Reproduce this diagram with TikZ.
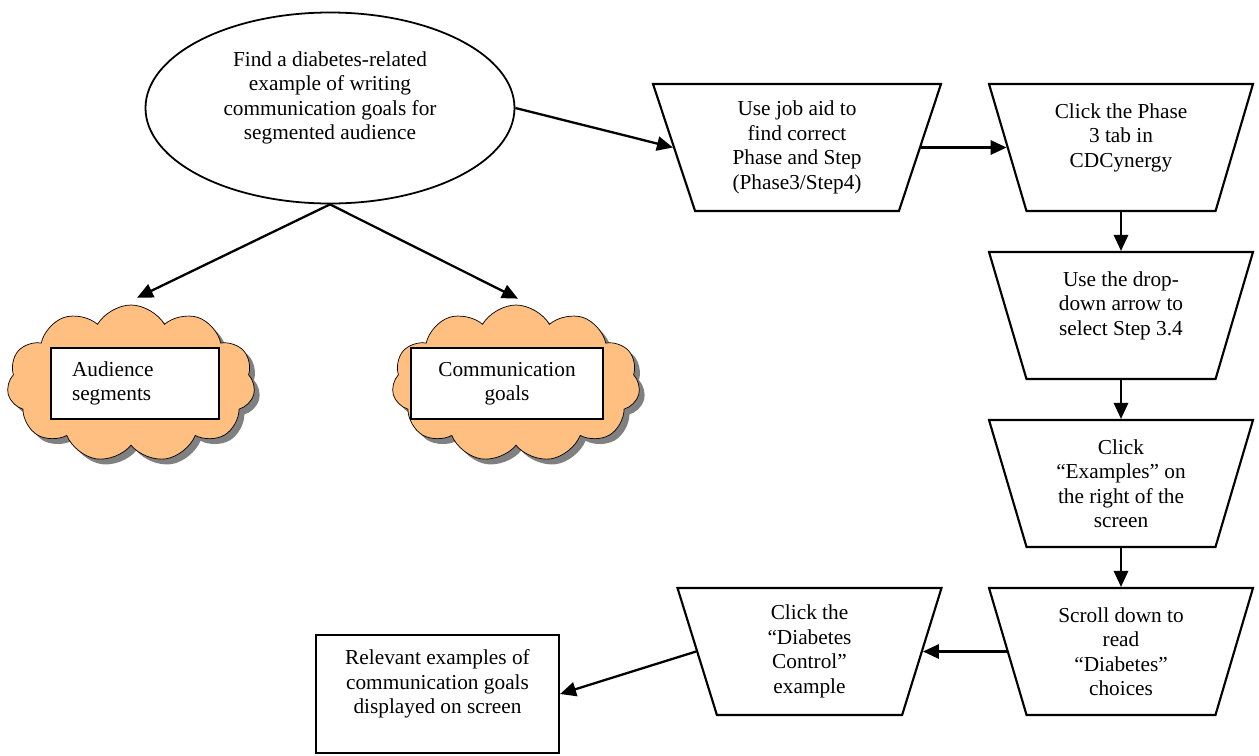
\documentclass[tikz,border=0pt]{standalone}
\usepackage{fontspec}
\setmainfont{Liberation Serif}
\usetikzlibrary{shapes.geometric,shapes.symbols,shadows,arrows.meta}
\definecolor{cloudfill}{RGB}{255,191,128}
\newcommand\PX{0.5634pt}
\begin{document}
\begin{tikzpicture}[x=0.5634pt,y=-0.5634pt,
  every node/.style={font=\fontsize{12pt}{13.8pt}\selectfont},
  stepbox/.style={draw, line width=1.2pt, trapezium, trapezium left angle=113,
    trapezium right angle=113, trapezium stretches body,
    minimum width=264*\PX, minimum height=127*\PX, inner sep=0pt, align=center},
  conn/.style={line width=1.3pt, -{Triangle[length=9pt,width=8pt]}},
  puff/.style={cloud, cloud puffs=11, cloud puff arc=120, draw, line width=0.4pt,
    fill=cloudfill, aspect=1.6, inner sep=0pt,
    minimum width=248*\PX, minimum height=157*\PX,
    drop shadow={shadow xshift=3pt, shadow yshift=-3pt, fill=gray, opacity=1}},
  labelbox/.style={draw, line width=1.2pt, fill=white, minimum height=71*\PX, inner ysep=0pt}
]
\useasboundingbox (0,0) rectangle (1259,755);

% start ellipse
\node[draw, ellipse, line width=1pt, minimum width=369*\PX, minimum height=191*\PX,
  inner sep=0pt, align=center] (goal) at (330,108)
  {Find a diabetes-related\\example of writing\\communication goals for\\segmented audience\\\mbox{}};

% clouds
\node[puff] (c1) at (131,383.5) {};
\node[puff] (c2) at (516,383.5) {};
\node[labelbox, align=left, text width=126*\PX, inner xsep=21*\PX] (b1) at (135,383.5)
  {Audience\\segments};
\node[labelbox, align=center, text width=150*\PX, inner xsep=21*\PX] (b2) at (507,383.5)
  {Communication\\goals};

% steps
\node[stepbox, minimum width=288*\PX, trapezium left angle=114.4, trapezium right angle=114.4]
  (t1) at (797,147.5) {Use job aid to\\find correct\\Phase and Step\\(Phase3/Step4)};
\node[stepbox] (t2) at (1121,147.5) {Click the Phase\\3 tab in\\CDCynergy\\\mbox{}};
\node[stepbox] (t3) at (1121,315.5) {Use the drop-\\down arrow to\\select Step 3.4\\\mbox{}};
\node[stepbox] (t4) at (1121,483.5) {Click\\“Examples” on\\the right of the\\screen};
\node[stepbox] (t5) at (1121,651.5) {Scroll down to\\read\\“Diabetes”\\choices};
\node[stepbox] (t6) at (809.5,651.5) {Click the\\“Diabetes\\Control”\\example};

% result
\node[draw, line width=1.2pt, minimum width=243*\PX, minimum height=118*\PX,
  inner sep=0pt, align=center] (res) at (437.5,694)
  {Relevant examples of\\communication goals\\displayed on screen\\\mbox{}};

% connectors
\draw[conn] (goal.east) -- (t1.left side);
\draw[conn] (t1.right side) -- (t2.left side);
\draw[conn] (t2.bottom side) -- (t3.top side);
\draw[conn] (t3.bottom side) -- (t4.top side);
\draw[conn] (t4.bottom side) -- (t5.top side);
\draw[conn] (t5.left side) -- (t6.right side);
\draw[conn] (t6.left side) -- (res.east);
\draw[conn] (goal.south) -- ([xshift=3.4pt,yshift=3.9pt]c1.north);
\draw[conn] (goal.south) -- ([xshift=1.1pt,yshift=3.4pt]c2.north);
\end{tikzpicture}
\end{document}
